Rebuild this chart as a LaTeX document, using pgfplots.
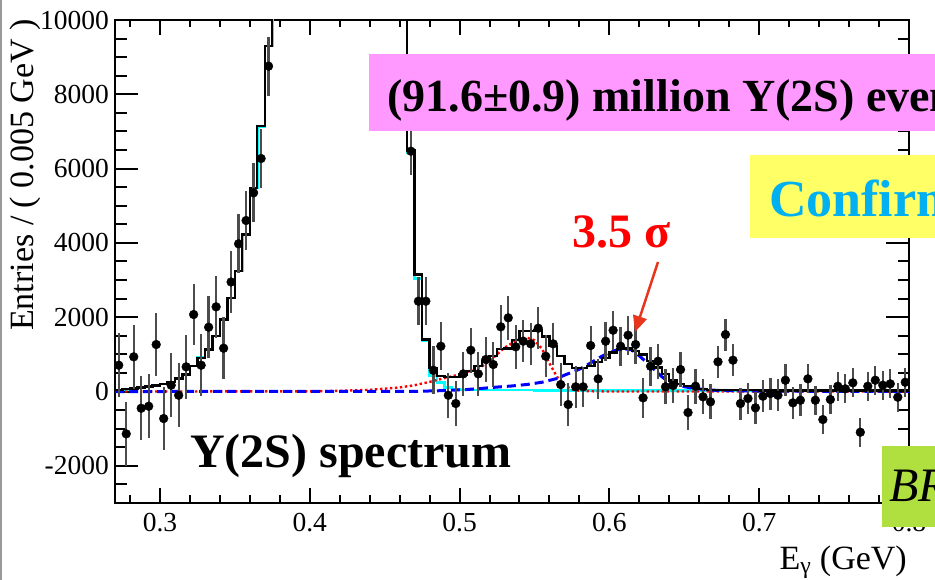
\documentclass[border=0pt]{standalone}
\usepackage{fontspec}
\setmainfont{Liberation Serif}
\usepackage{pgfplots}
\usepackage{pgfplotstable}
\pgfplotsset{compat=1.18}
\usetikzlibrary{arrows.meta}

\definecolor{fitcyan}{HTML}{00FFFF}
\definecolor{fitred}{HTML}{FF0000}
\definecolor{fitblue}{HTML}{0000FF}
\definecolor{boxpink}{HTML}{FF99FF}
\definecolor{boxyellow}{HTML}{FFFF66}
\definecolor{boxgreen}{HTML}{B0E040}
\definecolor{txtcyan}{HTML}{00B0F0}
\definecolor{arrowred}{HTML}{E8361C}

% data points: bin centre, entries, error
\pgfplotstableread{
x y e
0.2725 708 860
0.2775 -1139 860
0.2825 934 860
0.2875 -450 860
0.2925 -396 860
0.2975 1265 860
0.3025 -727 860
0.3075 170 860
0.3125 -100 860
0.3175 665 860
0.3225 2073 830
0.3275 708 830
0.3325 1731 830
0.3375 2280 830
0.3425 1166 830
0.3475 2948 830
0.3525 3976 790
0.3575 4603 790
0.3625 5349 790
0.3675 6272 790
0.3725 8757 790
0.4675 6469 640
0.4725 2431 640
0.4775 2431 640
0.4825 573 640
0.4875 1219 640
0.4925 -100 600
0.4975 -323 600
0.5025 476 600
0.5075 1112 600
0.5125 476 600
0.5175 861 600
0.5225 727 600
0.5275 1742 600
0.5325 1984 600
0.5375 1203 600
0.5425 1354 570
0.5475 1284 570
0.5525 1704 570
0.5575 950 570
0.5625 1284 570
0.5675 188 570
0.5725 -350 570
0.5775 127 570
0.5825 127 530
0.5875 1238 530
0.5925 342 530
0.5975 1354 530
0.6025 1650 530
0.6075 1219 530
0.6125 1516 530
0.6175 1265 530
0.6225 -170 530
0.6275 681 530
0.6325 816 470
0.6375 127 470
0.6425 162 470
0.6475 592 470
0.6525 -565 470
0.6575 143 470
0.6625 -143 470
0.6675 -277 470
0.6725 800 430
0.6775 1534 430
0.6825 843 430
0.6875 -323 430
0.6925 -188 430
0.6975 -439 430
0.7025 -127 430
0.7075 -54 430
0.7125 -100 430
0.7175 304 430
0.7225 -304 430
0.7275 -234 430
0.7325 342 390
0.7375 -234 390
0.7425 -754 390
0.7475 -215 390
0.7525 143 390
0.7575 73 390
0.7625 234 390
0.7675 -1096 390
0.7725 143 390
0.7775 304 390
0.7825 170 390
0.7875 207 390
0.7925 -153 390
0.7975 250 390
}\pts

% total fit, left bin edge and content
\pgfplotstableread{
x y
0.270 40
0.275 60
0.280 85
0.285 110
0.290 135
0.295 165
0.300 200
0.305 255
0.310 350
0.315 460
0.320 690
0.325 910
0.330 1130
0.335 1490
0.340 1940
0.345 2520
0.350 3240
0.355 4230
0.360 5480
0.365 7140
0.370 9300
0.375 14000
0.380 25000
0.455 25000
0.460 16000
0.465 6500
0.470 3150
0.475 1400
0.480 640
0.485 415
0.490 390
0.495 390
0.500 460
0.505 550
0.510 680
0.515 820
0.520 960
0.525 1150
0.530 1160
0.535 1390
0.540 1620
0.545 1620
0.550 1640
0.555 1480
0.560 1230
0.565 960
0.570 740
0.575 630
0.580 630
0.585 690
0.590 790
0.595 910
0.600 1050
0.605 1140
0.610 1160
0.615 1100
0.620 1000
0.625 830
0.630 650
0.635 470
0.640 300
0.645 210
0.650 140
0.655 90
0.660 60
0.665 45
0.670 40
0.680 35
0.700 30
0.750 25
0.800 25
}\total

% background component
\pgfplotstableread{
x y
0.270 40
0.275 60
0.280 85
0.285 110
0.290 135
0.295 165
0.300 200
0.305 255
0.310 350
0.315 460
0.320 690
0.325 910
0.330 1130
0.335 1490
0.340 1940
0.345 2520
0.350 3240
0.355 4230
0.360 5480
0.365 7140
0.370 9300
0.375 14000
0.380 25000
0.455 25000
0.460 16000
0.465 6420
0.470 3040
0.475 1380
0.480 430
0.485 250
0.490 110
0.495 60
0.500 40
0.550 30
0.800 25
}\bkg

% signal near 0.545
\pgfplotstableread{
x y
0.270 0
0.400 5
0.420 20
0.440 45
0.460 110
0.470 170
0.480 260
0.490 360
0.500 460
0.510 590
0.515 680
0.520 820
0.525 1000
0.530 1180
0.535 1300
0.540 1420
0.545 1450
0.550 1380
0.555 1150
0.560 760
0.565 400
0.570 170
0.575 60
0.580 20
0.590 5
0.600 0
0.800 0
}\sigA

% signal near 0.61
\pgfplotstableread{
x y
0.270 0
0.470 5
0.490 25
0.505 55
0.515 85
0.525 120
0.535 150
0.545 190
0.555 250
0.565 350
0.570 440
0.575 520
0.580 600
0.585 710
0.590 830
0.595 950
0.600 1050
0.605 1120
0.610 1150
0.615 1120
0.620 960
0.625 780
0.630 590
0.635 400
0.640 250
0.645 180
0.650 130
0.655 95
0.660 70
0.670 35
0.690 15
0.720 8
0.800 5
}\sigB

\pgfplotsset{
  rootframe/.style={
    at={(115pt,77pt)}, anchor=south west,
    scale only axis, width=794pt, height=483pt,
    xmin=0.27, xmax=0.8, ymin=-3000, ymax=10000,
    scaled ticks=false,
    axis line style={line width=2.2pt},
    tick style={line width=2pt, black},
    xtick pos=both, ytick pos=both,
    xticklabel pos=lower, yticklabel pos=left,
  },
}

\begin{document}
\begin{tikzpicture}
\useasboundingbox (0,0) rectangle (935pt,580pt);
\clip (0,0) rectangle (935pt,580pt);
\draw[black!40, line width=2pt] (1pt,0) -- (1pt,580pt);

% y ticks (longer)
\begin{axis}[rootframe,
  xtick=\empty,
  ytick={-2000,0,2000,4000,6000,8000,10000},
  yticklabels={-2000,0,2000,4000,6000,8000,10000},
  minor ytick={-2500,-1500,-1000,-500,500,1000,1500,2500,3000,3500,4500,5000,5500,6500,7000,7500,8500,9000,9500},
  major tick length=23pt, minor tick length=11.5pt,
  yticklabel style={font=\fontsize{27.5}{30}\selectfont, inner sep=0pt, xshift=-6pt},
]
\end{axis}

% data and fit, x ticks
\begin{axis}[rootframe,
  ytick=\empty,
  xtick={0.3,0.4,0.5,0.6,0.7,0.8},
  xticklabels={0.3,0.4,0.5,0.6,0.7,0.8},
  minor xtick={0.28,0.32,0.34,0.36,0.38,0.42,0.44,0.46,0.48,0.52,0.54,0.56,0.58,0.62,0.64,0.66,0.68,0.72,0.74,0.76,0.78},
  major tick length=15pt, minor tick length=7.5pt,
  xticklabel style={font=\fontsize{27.5}{30}\selectfont, inner sep=0pt, anchor=north, yshift=-10pt},
  clip mode=individual,
]
\addplot[fitcyan, line width=2.6pt, const plot mark left] table[x=x,y=y] {\bkg};
\addplot[fitred, line width=2.4pt, dash pattern=on 2.4pt off 2.6pt] table[x=x,y=y] {\sigA};
\addplot[fitblue, line width=3pt, dash pattern=on 9pt off 5pt] table[x=x,y=y] {\sigB};
\addplot[black, line width=2.3pt, const plot mark left] table[x=x,y=y] {\total};
\addplot[only marks, mark=*, mark size=4.4pt, mark options={fill=black, draw=black},
  error bars/.cd, y dir=both, y explicit, error mark=none,
  error bar style={line width=2.3pt, black!70}]
  table[x=x, y=y, y error=e] {\pts};
\end{axis}

% axis titles
\node[rotate=90, anchor=base, inner sep=0pt, font=\fontsize{34}{36}\selectfont]
  at (33pt,405pt) {Entries / ( 0.005 GeV )};
\node[anchor=base east, inner sep=0pt, font=\fontsize{34}{36}\selectfont]
  at (907pt,10pt) {E\textsubscript{γ} (GeV)};

% slide overlays
\fill[boxpink] (369pt,449pt) rectangle (960pt,526pt);
\node[anchor=base west, inner sep=0pt, font=\fontsize{46}{50}\selectfont\bfseries]
  at (387pt,468pt) {(91.6±0.9) million Υ(2S) events};
\fill[boxyellow] (750pt,342pt) rectangle (960pt,425pt);
\node[anchor=base west, inner sep=0pt, text=txtcyan, font=\fontsize{52}{56}\selectfont\bfseries]
  at (769pt,363pt) {Confirmed};
\fill[boxgreen] (882pt,53pt) rectangle (960pt,134pt);
\node[anchor=base west, inner sep=0pt, font=\fontsize{48}{52}\selectfont\itshape]
  at (889pt,78pt) {BR};
\node[anchor=base west, inner sep=0pt, font=\fontsize{48}{52}\selectfont\bfseries]
  at (190pt,112pt) {Υ(2S) spectrum};
\node[anchor=base west, inner sep=0pt, text=fitred, font=\fontsize{48}{52}\selectfont\bfseries]
  at (572pt,332pt) {3.5 σ};
\draw[arrowred, line width=2.5pt, -{Triangle[length=16pt,width=14pt]}]
  (658pt,318pt) -- (635pt,248pt);
\end{tikzpicture}
\end{document}
